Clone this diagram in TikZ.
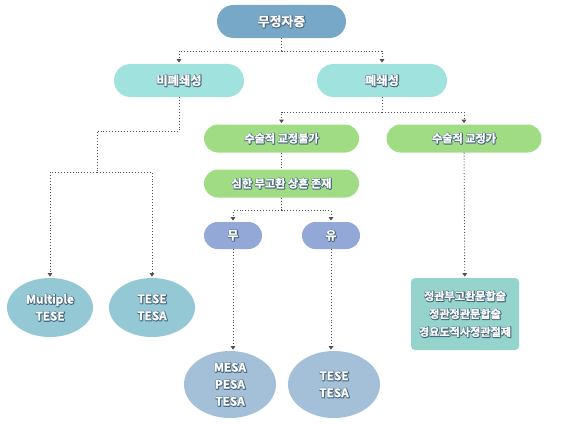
\documentclass[tikz,border=0pt]{standalone}
\usepackage{fontspec}
\setmainfont{Noto Sans CJK KR}
\IfFontExistsTF{Noto Sans CJK KR Bold}
  {\newfontfamily\krbold{Noto Sans CJK KR Bold}\def\whitew{0.15}}
  {\newfontfamily\krbold{Noto Sans CJK KR}\def\whitew{0.55}}
\usepackage{xcolor}
\usepackage{tikz}
\usetikzlibrary{arrows.meta,shapes,calc,positioning}

\definecolor{topc}{HTML}{78A8C8}
\definecolor{levc}{HTML}{A0E2DE}
\definecolor{grnc}{HTML}{A0DC84}
\definecolor{ync}{HTML}{94A8D8}
\definecolor{ellc}{HTML}{94C8D4}
\definecolor{bellc}{HTML}{A4C0D8}
\definecolor{boxc}{HTML}{94D4CC}
\definecolor{txtshadow}{HTML}{4A6A80}
\definecolor{linec}{HTML}{505050}

% white label with a dark outline (stroked glyphs)
\newcommand{\shtxt}[1]{\leavevmode
  \rlap{\kern0.35pt\raisebox{-0.35pt}{\special{pdf:literal direct 2 Tr 1.5 w 1 j}\textcolor{txtshadow}{#1}\special{pdf:literal direct 0 Tr}}}%
  \special{pdf:literal direct 2 Tr \whitew\space w 1 j}\textcolor{white}{#1}\special{pdf:literal direct 0 Tr}}

\tikzset{
  pill/.style={rectangle,rounded corners=#1,inner sep=0pt},
  oval/.style={ellipse,inner sep=0pt,align=center,font=\krbold\fontsize{10pt}{14.5pt}\selectfont},
  conn/.style={draw=linec,line width=0.8pt,dash pattern=on 0.8pt off 1.7pt},
  arr/.style={conn,-{Triangle[width=4pt,length=3pt]},shorten >=1pt},
}

\begin{document}
\begin{tikzpicture}[x=0.03cm,y=-0.03cm]
  \useasboundingbox (0,0) rectangle (564,424);
  % top level
  \node[pill=0.495cm,fill=topc,minimum width=3.87cm,minimum height=0.99cm,font=\krbold\fontsize{11pt}{12pt}\selectfont] (azo) at (281.5,21.5) {\shtxt{무정자증}};
  \node[pill=0.495cm,fill=levc,minimum width=3.9cm,minimum height=0.99cm,font=\krbold\fontsize{10.5pt}{12pt}\selectfont] (nonobs) at (179,80.5) {\shtxt{비폐쇄성}};
  \node[pill=0.495cm,fill=levc,minimum width=3.9cm,minimum height=0.99cm,font=\krbold\fontsize{10.5pt}{12pt}\selectfont] (obs) at (382,80.5) {\shtxt{폐쇄성}};
  % surgical correction
  \node[pill=0.42cm,fill=grnc,minimum width=4.65cm,minimum height=0.84cm,font=\krbold\fontsize{9.5pt}{11pt}\selectfont] (nofix) at (281.5,138.5) {\shtxt{수술적 교정불가}};
  \node[pill=0.42cm,fill=grnc,minimum width=4.65cm,minimum height=0.84cm,font=\krbold\fontsize{9.5pt}{11pt}\selectfont] (fix) at (464,138.5) {\shtxt{수술적 교정가}};
  \node[pill=0.42cm,fill=grnc,minimum width=4.65cm,minimum height=0.84cm,font=\krbold\fontsize{9.5pt}{11pt}\selectfont] (scar) at (281.5,183.5) {\shtxt{심한 부고환 상흔 존재}};
  % no / yes
  \node[pill=0.405cm,fill=ync,minimum width=1.74cm,minimum height=0.81cm,font=\krbold\fontsize{10pt}{11pt}\selectfont] (no) at (233,235.5) {\shtxt{무}};
  \node[pill=0.405cm,fill=ync,minimum width=1.74cm,minimum height=0.81cm,font=\krbold\fontsize{10pt}{11pt}\selectfont] (yes) at (331,235.5) {\shtxt{유}};
  % outcomes
  \node[oval,fill=ellc,minimum width=2.58cm,minimum height=1.77cm] (mtese) at (50,307.5) {\shtxt{Multiple}\\\shtxt{TESE}};
  \node[oval,fill=ellc,minimum width=2.58cm,minimum height=1.77cm] (tt1) at (152,307.5) {\shtxt{TESE}\\\shtxt{TESA}};
  \node[oval,fill=bellc,minimum width=2.76cm,minimum height=2.01cm] (mesa) at (230,384.5) {\shtxt{MESA}\\\shtxt{PESA}\\\shtxt{TESA}};
  \node[oval,fill=bellc,minimum width=2.76cm,minimum height=2.01cm] (tt2) at (334,384.5) {\shtxt{TESE}\\\shtxt{TESA}};
  \node[rectangle,rounded corners=0.12cm,fill=boxc,minimum width=3.24cm,minimum height=2.16cm,inner sep=0pt,align=center,font=\krbold\fontsize{9.5pt}{15.3pt}\selectfont] (surg) at (465,314) {\shtxt{정관부고환문합술}\\\shtxt{정관정관문합술}\\\shtxt{경요도적사정관절제}};

  % connectors
  \coordinate (j1) at ($(azo.south)+(0,13)$);
  \draw[conn] (azo.south) -- (j1);
  \draw[arr] (j1) -| (nonobs);
  \draw[arr] (j1) -| (obs);
  \coordinate (j2) at (97,131);
  \coordinate (j3) at (97,172);
  \draw[conn] (nonobs.south) |- (j2) -- (j3);
  \draw[arr] (j3) -| (mtese);
  \draw[arr] (j3) -| (tt1);
  \coordinate (j4) at ($(obs.south)+(0,15)$);
  \draw[conn] (obs.south) -- (j4);
  \draw[arr] (j4) -| (nofix);
  \draw[arr] (j4) -| (fix);
  \draw[conn] (nofix) -- (scar);
  \coordinate (j5) at ($(scar.south)+(0,13)$);
  \draw[conn] (scar.south) -- (j5);
  \draw[arr] (j5) -| (no);
  \draw[arr] (j5) -| (yes);
  \draw[arr] (no) -- (no |- mesa.north);
  \draw[arr] (yes) -- (yes |- tt2.north);
  \draw[arr] (fix) -- (surg);
\end{tikzpicture}
\end{document}
